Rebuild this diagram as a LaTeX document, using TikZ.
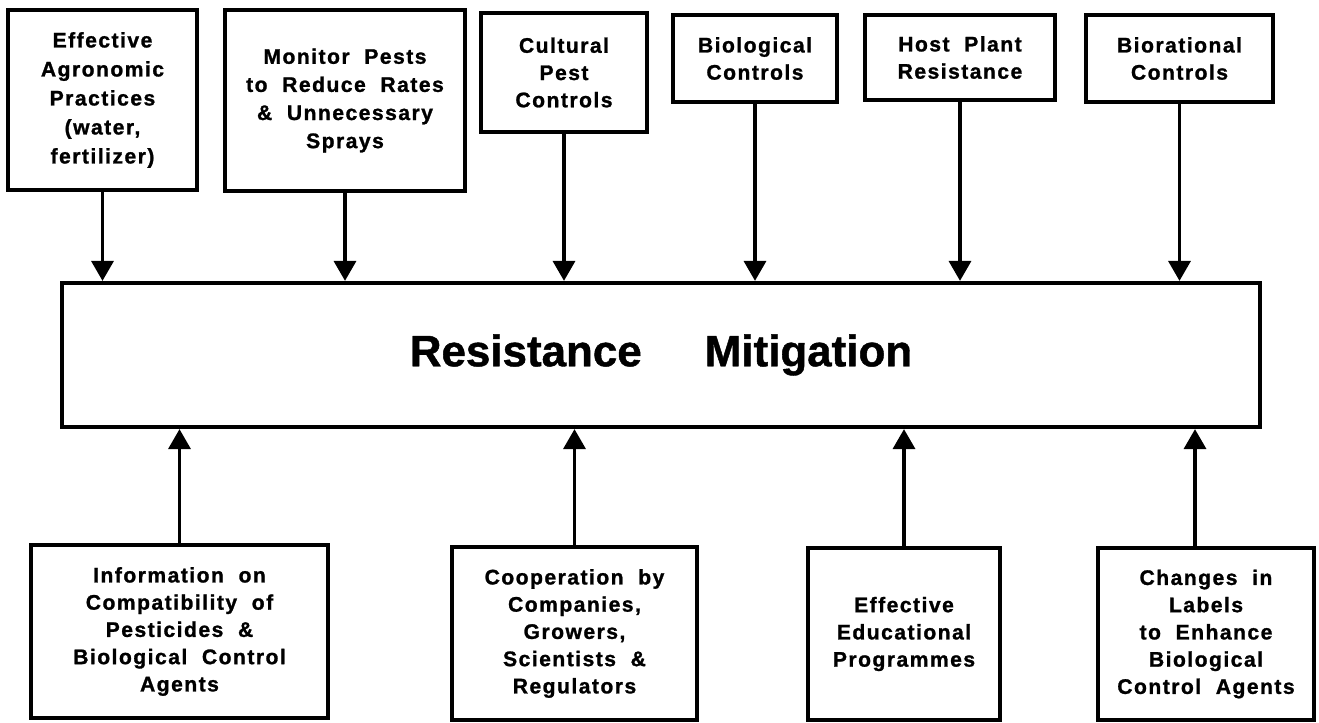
\documentclass[tikz,border=0pt]{standalone}
\usepackage{fontspec}
\setmainfont{Liberation Sans}[LetterSpace=7,WordSpace=2,BoldFeatures={FakeBold=1.2}]
\newfontfamily\titlefont{Liberation Sans}[BoldFeatures={FakeBold=1}]
\usetikzlibrary{arrows.meta}

\begin{document}
\begin{tikzpicture}[x=0.2mm,y=-0.2mm]

    \tikzset{
      box/.style={
        draw,
        line width=2.4pt,
        align=center,
        inner sep=0pt,
        font=\bfseries\fontsize{12}{15.5}\selectfont,
      },
      boxsize/.style 2 args={
        minimum width=#1*0.2mm,
        minimum height=#2*0.2mm,
      },
      mainbox/.style={
        draw,
        line width=2.4pt,
        inner sep=0pt,
        font=\titlefont\bfseries\fontsize{25}{30}\selectfont,
      },
      feed/.style={
        line width=2pt,
        -{Triangle[length=4mm,width=4.4mm]},
      },
    }
    \useasboundingbox (0,0) rectangle (1319,723);
	\node[mainbox,boxsize={1198}{144}] (main) at (661,355) {Resistance\hspace{1.26cm}Mitigation};
	\node[box,boxsize={189}{180},font=\bfseries\fontsize{12}{16.5}\selectfont] (agro) at (102.5,100) {Effective\\Agronomic\\Practices\\(water,\\fertilizer)};
	\node[box,boxsize={240}{181},font=\bfseries\fontsize{12}{16}\selectfont] (monitor) at (345,100.5) {Monitor Pests\\to Reduce Rates\\\& Unnecessary\\Sprays};
	\node[box,boxsize={166}{119}] (cultural) at (564,72.5) {Cultural\\Pest\\Controls};
	\node[box,boxsize={164}{87}] (biological) at (755,58.5) {Biological\\Controls};
	\node[box,boxsize={190}{85}] (host) at (960,57.5) {Host Plant\\Resistance};
	\node[box,boxsize={187}{87}] (biorational) at (1179.5,58.5) {Biorational\\Controls};
	\node[box,boxsize={297}{173}] (info) at (179.5,631.5) {Information on\\Compatibility of\\Pesticides \&\\Biological Control\\Agents};
	\node[box,boxsize={245}{173}] (coop) at (574.5,633.5) {Cooperation by\\Companies,\\Growers,\\Scientists \&\\Regulators};
	\node[box,boxsize={192}{172}] (educ) at (904,634) {Effective\\Educational\\Programmes};
	\node[box,boxsize={216}{172}] (labels) at (1206,634) {Changes in\\Labels\\to Enhance\\Biological\\Control Agents};

	\foreach \n in {agro,monitor,cultural,biological,host,biorational}
	  \draw[feed] (\n) -- (\n.south |- main.north);
	\foreach \n in {info,coop,educ}
	  \draw[feed] (\n) -- (\n.north |- main.south);
	\draw[feed] ([xshift=-2.2mm]labels.north) -- ([xshift=-2.2mm]labels.north |- main.south);

\end{tikzpicture}
\end{document}
